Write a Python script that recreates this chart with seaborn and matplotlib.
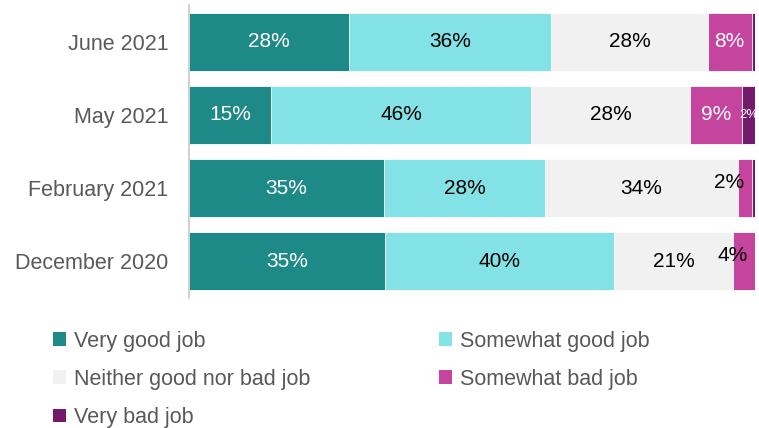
import numpy as np
import pandas as pd
import matplotlib.pyplot as plt
import seaborn as sns
from matplotlib.patches import Patch

periods = ['June 2021', 'May 2021', 'February 2021', 'December 2020']
answers = ['Very good job', 'Somewhat good job', 'Neither good nor bad job',
           'Somewhat bad job', 'Very bad job']
very_good = [28.3, 14.5, 34.5, 34.6]
somewhat_good = [35.7, 45.9, 28.4, 40.5]
neither = [27.6, 28.1, 34.1, 21.0]
somewhat_bad = [7.8, 9.2, 2.4, 3.9]
very_bad = [0.6, 2.3, 0.6, 0.0]
shown = [[28, 36, 28, 8, None], [15, 46, 28, 9, 2], [35, 28, 34, 2, None], [35, 40, 21, 4, None]]

colors = ['#1e8a87', '#82e2e6', '#f1f1f1', '#c4449e', '#741a6a']
text_gray = '#595959'

df = pd.DataFrame({'period': periods, answers[0]: very_good, answers[1]: somewhat_good,
                   answers[2]: neither, answers[3]: somewhat_bad, answers[4]: very_bad})
cum = df[answers].cumsum(axis=1)

sns.set_theme(style='white')
plt.rcParams['font.family'] = ['Liberation Sans', 'DejaVu Sans']

fig = plt.figure(figsize=(7.59, 4.28), dpi=100)
ax = fig.add_axes([0.249, 0.304, 0.746, 0.684])

# draw cumulative totals from the outermost layer inwards
for i in range(len(answers) - 1, -1, -1):
    sns.barplot(x=cum[answers[i]], y=df['period'], color=colors[i], orient='h',
                width=0.79, ax=ax, edgecolor='white', linewidth=0.6, saturation=1)

for r in range(len(periods)):
    for i, a in enumerate(answers):
        val = shown[r][i]
        if val is None:
            continue
        w = df.loc[r, a]
        left = cum.loc[r, a] - w
        if i == 4:
            ax.text(left + w / 2, r, f'{val}%', ha='center', va='center', fontsize=9.5, color='white')
        elif w < 5:
            ax.text(left + w - 1.4, r - 0.08, f'{val}%', ha='right', va='center', fontsize=15, color='black')
        else:
            c = 'white' if i in (0, 3) else 'black'
            ax.text(left + w / 2, r, f'{val}%', ha='center', va='center', fontsize=15, color=c)

ax.set_xlim(0, 100)
ax.set_ylim(3.5, -0.5)
ax.set_xlabel('')
ax.set_ylabel('')
ax.set_xticks([])
ax.tick_params(axis='y', length=0, pad=15, labelsize=15.5, labelcolor=text_gray)
for s in ['top', 'right', 'bottom']:
    ax.spines[s].set_visible(False)
ax.spines['left'].set_color('#c8c8c8')
ax.spines['left'].set_linewidth(1.2)

order = [0, 2, 4, 1, 3]
handles = [Patch(facecolor=colors[k], edgecolor='none') for k in order]
labels = [answers[k] for k in order]
leg = fig.legend(handles, labels, ncol=2, loc='upper left',
                 bbox_to_anchor=(0.058, 1 - 322 / 428), bbox_transform=fig.transFigure,
                 frameon=False, fontsize=15.5, handlelength=0.62, handleheight=0.62,
                 handletextpad=0.35, columnspacing=6.0, labelspacing=0.8, borderaxespad=0)
for t in leg.get_texts():
    t.set_color(text_gray)

fig.savefig('out.png', dpi=100)
